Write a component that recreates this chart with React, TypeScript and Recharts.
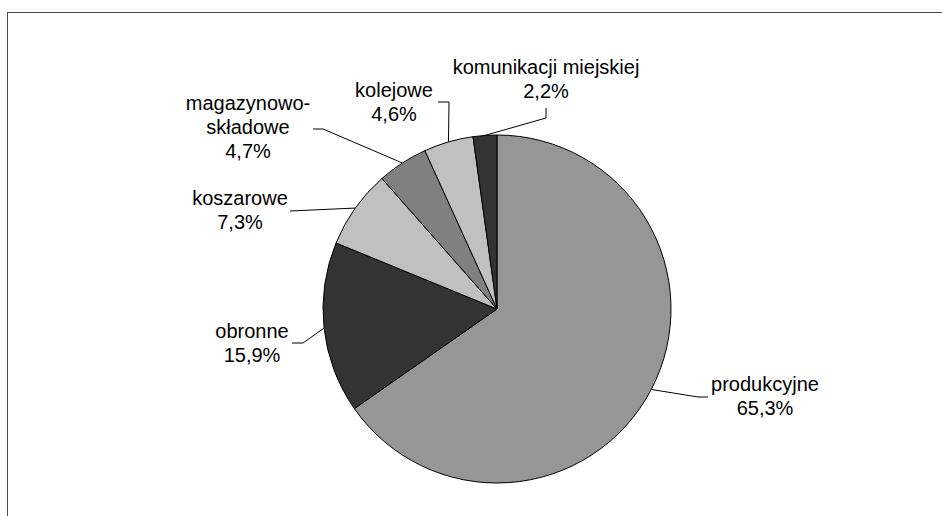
import { PieChart, Pie, Cell } from "recharts";

const categories = [
  "produkcyjne",
  "obronne",
  "koszarowe",
  "magazynowo-\nskładowe",
  "kolejowe",
  "komunikacji miejskiej"
];
const shares = [65.3, 15.9, 7.3, 4.7, 4.6, 2.2];
const fills = ["#969696", "#333333", "#c0c0c0", "#808080", "#c0c0c0", "#333333"];

// label placement relative to the pie centre: elbow + end of the leader, text centre x, first baseline y
const labelLayout = [
  { elbow: [201, 88], end: [211, 88], tx: 268, ty: 82 },
  { elbow: [-194, 34], end: [-205, 34], tx: -245, ty: 29 },
  { elbow: [-207, -98], end: [-207, -98], tx: -257, ty: -104 },
  { elbow: [-174, -180], end: [-184, -180], tx: -249, ty: -199 },
  { elbow: [-48, -207], end: [-59, -207], tx: -103, ty: -212 },
  { elbow: [49, -191], end: [49, -201], tx: 49, ty: -235 }
];

const data = categories.map((name, i) => ({ name, value: shares[i] }));

const RAD = Math.PI / 180;
const LINE_H = 24;

function renderLabel(props: any) {
  const { cx, cy, midAngle, outerRadius, index, value, name } = props;
  const lay = labelLayout[index];
  const ax = cx + outerRadius * Math.cos(-midAngle * RAD);
  const ay = cy + outerRadius * Math.sin(-midAngle * RAD);
  const pts = [
    [ax, ay],
    [cx + lay.elbow[0], cy + lay.elbow[1]],
    [cx + lay.end[0], cy + lay.end[1]]
  ];
  const lines = [...String(name).split("\n"), `${value.toFixed(1).replace(".", ",")}%`];
  return (
    <g key={`lbl-${index}`}>
      <polyline
        points={pts.map((p) => p.join(",")).join(" ")}
        fill="none"
        stroke="#000"
        strokeWidth={1}
      />
      <text
        x={cx + lay.tx}
        y={cy + lay.ty}
        textAnchor="middle"
        fill="#000"
        style={{ fontFamily: "'Liberation Sans', Arial, sans-serif", fontSize: 20 }}
      >
        {lines.map((ln, k) => (
          <tspan key={k} x={cx + lay.tx} dy={k === 0 ? 0 : LINE_H}>
            {ln}
          </tspan>
        ))}
      </text>
    </g>
  );
}

export default function App() {
  return (
    <div style={{ position: "absolute", left: 0, top: 0, width: 942, height: 516, background: "#fff", overflow: "hidden" }}>
      <div
        style={{
          position: "absolute",
          left: 7,
          top: 12,
          width: 1000,
          height: 600,
          borderTop: "1.5px solid #4a4a4a",
          borderLeft: "1.5px solid #4a4a4a"
        }}
      />
      <PieChart
        width={942}
        height={516}
        margin={{ top: 0, right: 0, bottom: 0, left: 0 }}
        style={{ position: "absolute", left: 0, top: 0 }}
      >
        <Pie
          data={data}
          dataKey="value"
          nameKey="name"
          cx={497}
          cy={309}
          outerRadius={174}
          startAngle={90}
          endAngle={-270}
          stroke="#000"
          strokeWidth={1}
          label={renderLabel}
          labelLine={false}
          isAnimationActive={false}
        >
          {data.map((d, i) => (
            <Cell key={d.name} fill={fills[i]} />
          ))}
        </Pie>
      </PieChart>
    </div>
  );
}
